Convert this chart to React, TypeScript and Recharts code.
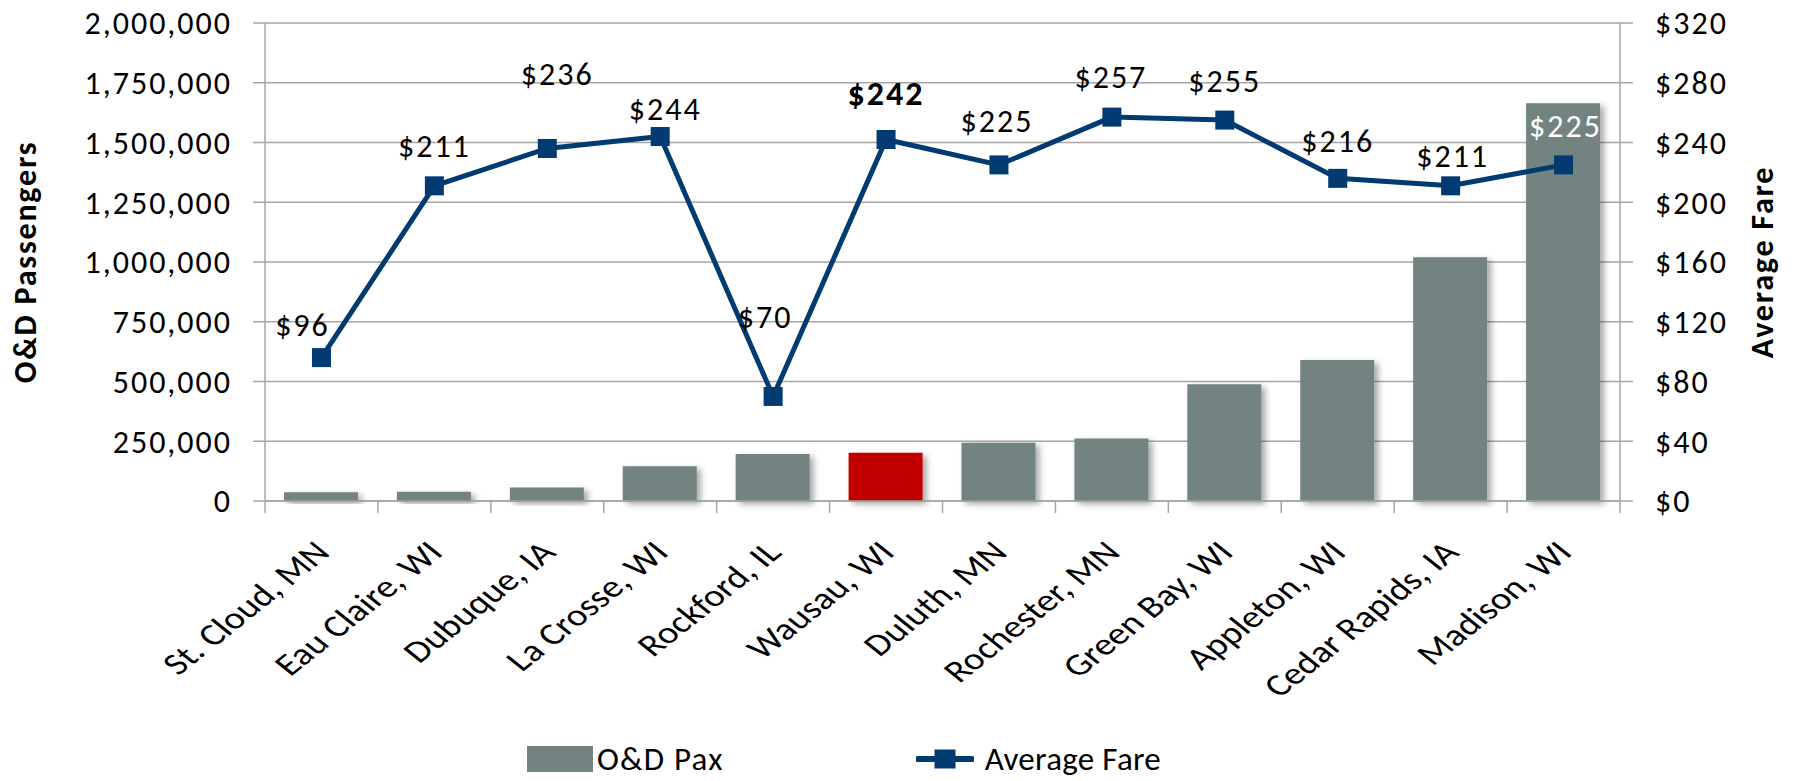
import {
  ComposedChart,
  Bar,
  Line,
  XAxis,
  YAxis,
  CartesianGrid,
  Legend,
  Cell,
  LabelList,
} from "recharts";

const cities = [
  "St. Cloud, MN",
  "Eau Claire, WI",
  "Dubuque, IA",
  "La Crosse, WI",
  "Rockford, IL",
  "Wausau, WI",
  "Duluth, MN",
  "Rochester, MN",
  "Green Bay, WI",
  "Appleton, WI",
  "Cedar Rapids, IA",
  "Madison, WI",
];
const odPax = [
  37000, 39000, 57000, 145000, 197000, 202000, 244000, 262000, 489000, 590000,
  1020000, 1664000,
];
const avgFare = [96, 211, 236, 244, 70, 242, 225, 257, 255, 216, 211, 225];
const paxTicks = [0, 250000, 500000, 750000, 1000000, 1250000, 1500000, 1750000, 2000000];
const fareTicks = [0, 40, 80, 120, 160, 200, 240, 280, 320];
const highlightCity = "Wausau, WI";
const lastCity = "Madison, WI";

const data = cities.map((city, i) => ({ city, pax: odPax[i], fare: avgFare[i] }));

const FONT = "Carlito, Lato, 'Open Sans', sans-serif";
const BAR = "#738381";
const RED = "#C00000";
const NAVY = "#023B72";
const GRID = "#A6A6A6";
const SPACING = 2;

// hand-placed label nudges (dx, dy) like the original Excel layout
const labelNudge: [number, number][] = [
  [-19, -22], [0, -29], [10, -63], [5, -17], [-8, -68], [0, -35],
  [-2, -33], [-1, -29], [0, -28], [0, -26], [2, -19], [2, -28],
];

const fmtPax = (v: number) => v.toLocaleString("en-US");
const fmtFare = (v: number) => `$${v}`;

// the source image is stretched sideways, so the 45° labels are stretched too
const CityTick = (props: any) => {
  const { x, y, payload, index } = props;
  const half = payload?.offset ?? 56.5;
  const ax = x + 10;
  const ay = y + 53;
  return (
    <g>
      <line x1={x - half} y1={y} x2={x - half} y2={y + 12} stroke={GRID} strokeWidth={1.5} />
      {index === cities.length - 1 && (
        <line x1={x + half} y1={y} x2={x + half} y2={y + 12} stroke={GRID} strokeWidth={1.5} />
      )}
      <g transform={`translate(${ax}, ${ay}) scale(1.25, 1) rotate(-45)`}>
        <text x={0} y={0} textAnchor="end" fontFamily={FONT} fontSize={31} fill="#000">
          {payload.value}
        </text>
      </g>
    </g>
  );
};

const AxisTitle = ({ viewBox, text, dx }: any) => {
  const cx = viewBox.x + dx;
  const cy = viewBox.y + viewBox.height / 2;
  return (
    <text
      x={cx}
      y={cy}
      transform={`rotate(-90, ${cx}, ${cy})`}
      textAnchor="middle"
      dominantBaseline="central"
      fontFamily={FONT}
      fontSize={32}
      letterSpacing={1.8}
      fontWeight="bold"
      fill="#000"
    >
      {text}
    </text>
  );
};

const FareLabel = (props: any) => {
  const { x, y, value, index } = props;
  const [dx, dy] = labelNudge[index] ?? [0, -30];
  const city = cities[index];
  return (
    <text
      x={x + dx}
      y={y + dy}
      textAnchor="middle"
      fontFamily={FONT}
      fontSize={city === highlightCity ? 34 : 32}
      letterSpacing={SPACING}
      fontWeight={city === highlightCity ? "bold" : "normal"}
      fill={city === lastCity ? "#fff" : "#000"}
    >
      {fmtFare(value)}
    </text>
  );
};

const SquareDot = (props: any) => {
  const { cx, cy, index } = props;
  return <rect key={`dot-${index}`} x={cx - 9.5} y={cy - 9.5} width={19} height={19} fill={NAVY} />;
};

const LegendBox = () => (
  <div
    style={{
      display: "flex",
      alignItems: "center",
      fontFamily: FONT,
      fontSize: 33,
      color: "#000",
      paddingLeft: 527,
      height: 50,
    }}
  >
    <span style={{ display: "inline-block", width: 66, height: 26, background: BAR, marginRight: 4 }} />
    <span style={{ letterSpacing: 1.2 }}>O&amp;D Pax</span>
    <svg width={58} height={26} style={{ marginLeft: 192, marginRight: 11 }}>
      <line x1={2} y1={13} x2={56} y2={13} stroke={NAVY} strokeWidth={6} strokeLinecap="round" />
      <rect x={18.5} y={3.5} width={21} height={19} fill={NAVY} />
    </svg>
    <span style={{ letterSpacing: 0.3 }}>Average Fare</span>
  </div>
);

export default function App() {
  return (
    <div style={{ width: 1796, height: 781, background: "#fff" }}>
      <style>{`body{margin:0}`}</style>
      <ComposedChart
        width={1796}
        height={781}
        data={data}
        margin={{ top: 23, right: 0, bottom: 30, left: 0 }}
      >
        <defs>
          <filter id="barShadow" x="-20%" y="-20%" width="150%" height="150%">
            <feDropShadow dx={4} dy={3} stdDeviation={3} floodColor="#000" floodOpacity={0.35} />
          </filter>
        </defs>
        <CartesianGrid yAxisId="left" vertical={false} stroke={GRID} strokeWidth={1.5} />
        <XAxis
          dataKey="city"
          height={200}
          interval={0}
          tickSize={0}
          tickMargin={0}
          tickLine={false}
          axisLine={{ stroke: GRID, strokeWidth: 1.5 }}
          tick={<CityTick />}
        />
        <YAxis
          yAxisId="left"
          width={265}
          domain={[0, 2000000]}
          ticks={paxTicks}
          tickFormatter={fmtPax}
          tickSize={12}
          tickMargin={21}
          axisLine={{ stroke: GRID, strokeWidth: 1.5 }}
          tickLine={{ stroke: GRID, strokeWidth: 1.5 }}
          tick={{ fill: "#000", fontSize: 32, fontFamily: FONT, letterSpacing: SPACING }}
          label={<AxisTitle text="O&D Passengers" dx={25} />}
        />
        <YAxis
          yAxisId="right"
          orientation="right"
          width={176}
          domain={[0, 320]}
          ticks={fareTicks}
          tickFormatter={fmtFare}
          tickSize={13}
          tickMargin={22}
          axisLine={{ stroke: GRID, strokeWidth: 1.5 }}
          tickLine={{ stroke: GRID, strokeWidth: 1.5 }}
          tick={{ fill: "#000", fontSize: 32, fontFamily: FONT, letterSpacing: SPACING }}
          label={<AxisTitle text="Average Fare" dx={142} />}
        />
        <Legend
          verticalAlign="bottom"
          content={<LegendBox />}
          wrapperStyle={{ left: 0, top: 734, width: 1796, height: 50 }}
        />
        <Bar yAxisId="left" dataKey="pax" name="O&D Pax" barSize={74} isAnimationActive={false}>
          {data.map((d, i) => (
            <Cell key={`bar-${i}`} fill={d.city === highlightCity ? RED : BAR} filter="url(#barShadow)" />
          ))}
        </Bar>
        <Line
          yAxisId="right"
          dataKey="fare"
          name="Average Fare"
          stroke={NAVY}
          strokeWidth={5}
          dot={<SquareDot />}
          activeDot={false}
          isAnimationActive={false}
        >
          <LabelList dataKey="fare" content={<FareLabel />} />
        </Line>
      </ComposedChart>
    </div>
  );
}
